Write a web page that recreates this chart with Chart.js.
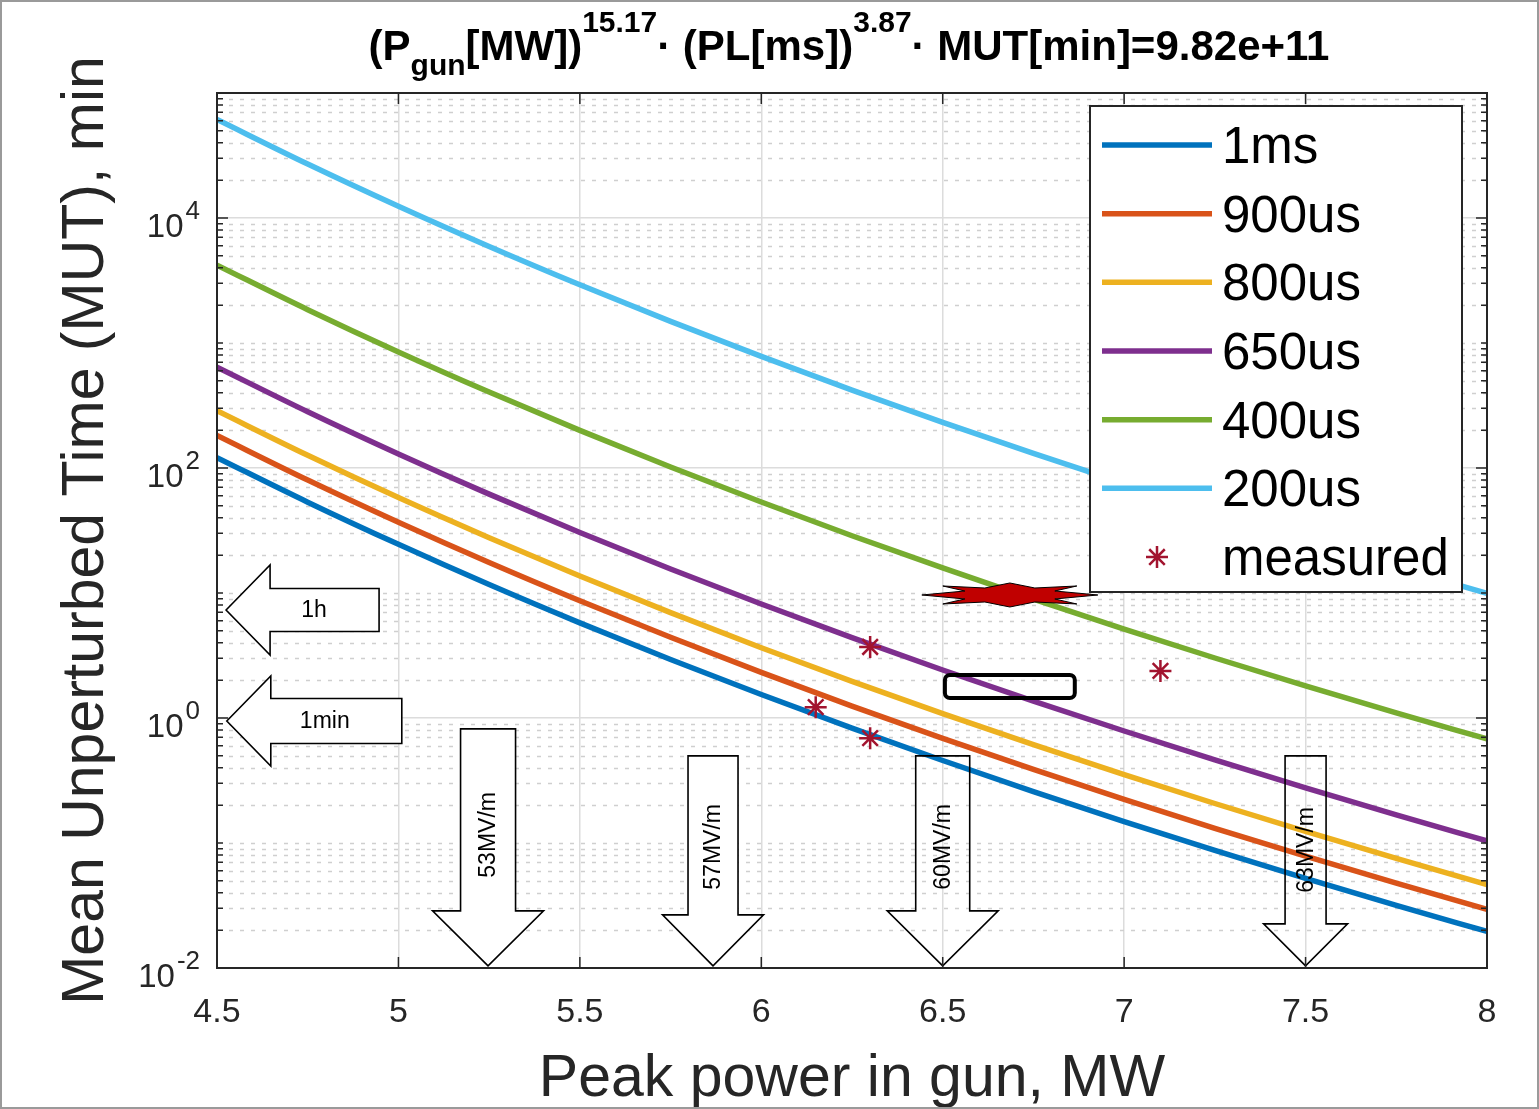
<!DOCTYPE html>
<html>
<head>
<meta charset="utf-8">
<title>Mean unperturbed time vs peak power</title>
<script src="https://cdn.jsdelivr.net/npm/chart.js@4.4.1/dist/chart.umd.min.js"></script>
<style>
  html, body { margin: 0; padding: 0; background: #fff; overflow: hidden; }
  #wrap { position: relative; width: 1539px; height: 1109px; }
  #chart { position: absolute; left: 0; top: 0; }
  #title {
    position: absolute; left: 214px; width: 1270px; top: 25px;
    text-align: center; white-space: nowrap; color: #000;
    font: bold 42px "Liberation Sans", Arial, sans-serif; line-height: 42px;
  }
  #title sub, #title sup {
    font-size: 30px; line-height: 1; position: relative; vertical-align: baseline;
  }
  #title sub { top: 15px; }
  #title sup { top: -28px; }
</style>
</head>
<body>
<div id="wrap">
  <canvas id="chart" width="1539" height="1109"></canvas>
  <div id="title">(P<sub>gun</sub>[MW])<sup>15.17</sup>·&nbsp;(PL[ms])<sup>3.87</sup>·&nbsp;MUT[min]=9.82e+11</div>
</div>
<script>
(function () {
  'use strict';

  /* ---- data ---- */
  var powerMW  = [4.5, 4.75, 5, 5.25, 5.5, 5.75, 6, 6.25, 6.5, 6.75, 7, 7.25, 7.5, 7.75, 8];
  var mut1ms   = [121, 53.3, 24.5, 11.68, 5.77, 2.94, 1.54, 0.829, 0.457, 0.258, 0.1485, 0.0872, 0.0522, 0.0317, 0.0196];
  var mut900us = [182, 80.1, 36.8, 17.55, 8.67, 4.42, 2.32, 1.246, 0.688, 0.388, 0.223, 0.131, 0.0784, 0.0477, 0.0295];
  var mut800us = [287, 126.4, 58.0, 27.7, 13.67, 6.96, 3.65, 1.966, 1.085, 0.612, 0.352, 0.207, 0.1237, 0.0752, 0.0465];
  var mut650us = [641, 282, 129.6, 61.8, 30.5, 15.56, 8.16, 4.39, 2.42, 1.366, 0.787, 0.462, 0.276, 0.168, 0.1038];
  var mut400us = [4197, 1848, 848, 405, 200, 101.8, 53.4, 28.7, 15.86, 8.94, 5.15, 3.02, 1.809, 1.100, 0.680];
  var mut200us = [61370, 27020, 12410, 5920, 2923, 1489, 781, 420, 232, 130.8, 75.3, 44.2, 26.5, 16.09, 9.94];
  var measuredPower = [6.15, 6.3, 6.3, 7.1];
  var measuredMUT   = [1.22, 3.70, 0.69, 2.38];

  var seriesLabels = ['1ms', '900us', '800us', '650us', '400us', '200us'];
  var seriesValues = [mut1ms, mut900us, mut800us, mut650us, mut400us, mut200us];
  var seriesColors = ['#0072BD', '#D95319', '#EDB120', '#7E2F8E', '#77AC30', '#4DBEEE'];

  var xTickStep = 0.5;
  var yMajorTicks = [1e-2, 1e0, 1e2, 1e4];
  var yMajorExp = ['-2', '0', '2', '4'];

  /* annotations: anchored in data units, shape sizes in px */
  var arrowNotes = [
    { text: '1h',     x: 4.525, y: 7.31,   dir: 'left', length: 153, headLen: 44, headHalf: 45,   bodyHalf: 21.5, labelAt: 88,  fill: '#fff' },
    { text: '1min',   x: 4.527, y: 0.946,  dir: 'left', length: 175, headLen: 44, headHalf: 45,   bodyHalf: 22.5, labelAt: 98,  fill: '#fff' },
    { text: '53MV/m', x: 5.247, y: 0.0104, dir: 'down', length: 237, headLen: 55, headHalf: 55.5, bodyHalf: 27.5, labelAt: 131, fill: '#fff' },
    { text: '57MV/m', x: 5.867, y: 0.0104, dir: 'down', length: 210, headLen: 51, headHalf: 50.5, bodyHalf: 25,   labelAt: 119, fill: '#fff' },
    { text: '60MV/m', x: 6.50,  y: 0.0104, dir: 'down', length: 210, headLen: 55, headHalf: 55.5, bodyHalf: 27,   labelAt: 119, fill: null },
    { text: '63MV/m', x: 7.50,  y: 0.0104, dir: 'down', length: 210, headLen: 42, headHalf: 42,   bodyHalf: 20.5, labelAt: 116, fill: null }
  ];
  var burstNote = { x: 6.685, y: 9.64 };
  var burstShape = [[-88, 0], [-45, -4], [-67, -9], [-25, -7], [0, -12], [25, -7], [67, -9], [45, -4],
                    [88, 0], [45, 4], [67, 9], [25, 7], [0, 12], [-25, 7], [-67, 9], [-45, 4]];
  var boxNote = { x1: 6.506, x2: 6.864, y1: 2.21, y2: 1.445 };

  var FONT = '"Liberation Sans", Arial, sans-serif';
  var AXIS_COLOR = '#262626';

  function pairs(xs, ys) {
    return xs.map(function (x, i) { return { x: x, y: ys[i] }; });
  }

  var datasets = seriesLabels.map(function (label, i) {
    return {
      label: label,
      data: pairs(powerMW, seriesValues[i]),
      borderColor: seriesColors[i],
      backgroundColor: seriesColors[i],
      borderWidth: 5.5,
      pointRadius: 0,
      cubicInterpolationMode: 'monotone',
      order: 1
    };
  });
  datasets.push({
    label: 'measured',
    data: pairs(measuredPower, measuredMUT),
    showLine: false,
    pointStyle: 'star',
    pointRadius: 11,
    borderWidth: 2.5,
    borderColor: '#A2142F',
    backgroundColor: '#A2142F',
    order: 0
  });

  /* minor log grid values: 2..9 in every decade plus the odd decades */
  function minorLogValues() {
    var out = [];
    for (var k = -2; k <= 4; k++) {
      for (var m = 2; m <= 9; m++) out.push(m * Math.pow(10, k));
      if (k % 2 !== 0) out.push(Math.pow(10, k));
    }
    return out;
  }

  /* =======================================================================
     plugins
     ======================================================================= */

  var background = {
    id: 'background',
    beforeDraw: function (chart) {
      var ctx = chart.ctx;
      ctx.save();
      ctx.fillStyle = '#fff';
      ctx.fillRect(0, 0, chart.width, chart.height);
      ctx.restore();
    }
  };

  var minorGrid = {
    id: 'minorGrid',
    beforeDatasetsDraw: function (chart) {
      var ctx = chart.ctx, a = chart.chartArea, y = chart.scales.y;
      ctx.save();
      ctx.strokeStyle = '#cfcfcf';
      ctx.lineWidth = 1.5;
      ctx.setLineDash([4, 7]);
      minorLogValues().forEach(function (v) {
        var py = Math.round(y.getPixelForValue(v)) + 0.5;
        ctx.beginPath();
        ctx.moveTo(a.left + 12, py);
        ctx.lineTo(a.right, py);
        ctx.stroke();
      });
      ctx.restore();
    }
  };

  function arrowPath(ctx, n) {
    ctx.beginPath();
    ctx.moveTo(0, 0);
    ctx.lineTo(n.headLen, -n.headHalf);
    ctx.lineTo(n.headLen, -n.bodyHalf);
    ctx.lineTo(n.length, -n.bodyHalf);
    ctx.lineTo(n.length, n.bodyHalf);
    ctx.lineTo(n.headLen, n.bodyHalf);
    ctx.lineTo(n.headLen, n.headHalf);
    ctx.closePath();
  }

  var annotations = {
    id: 'annotations',
    afterDatasetsDraw: function (chart) {
      var ctx = chart.ctx, xs = chart.scales.x, ys = chart.scales.y;
      ctx.save();

      arrowNotes.forEach(function (n) {
        var px = xs.getPixelForValue(n.x), py = ys.getPixelForValue(n.y);
        ctx.save();
        ctx.translate(px, py);
        if (n.dir === 'down') ctx.rotate(-Math.PI / 2);
        arrowPath(ctx, n);
        if (n.fill) { ctx.fillStyle = n.fill; ctx.fill(); }
        ctx.strokeStyle = '#000';
        ctx.lineWidth = 1.6;
        ctx.lineJoin = 'miter';
        ctx.stroke();
        ctx.fillStyle = '#000';
        ctx.font = '23px ' + FONT;
        ctx.textAlign = 'center';
        ctx.textBaseline = 'middle';
        ctx.fillText(n.text, n.labelAt, 1);
        ctx.restore();
      });

      // red burst
      var bx = xs.getPixelForValue(burstNote.x), by = ys.getPixelForValue(burstNote.y);
      ctx.beginPath();
      burstShape.forEach(function (p, i) {
        if (i === 0) ctx.moveTo(bx + p[0], by + p[1]);
        else ctx.lineTo(bx + p[0], by + p[1]);
      });
      ctx.closePath();
      ctx.fillStyle = '#C00000';
      ctx.fill();
      ctx.strokeStyle = '#000';
      ctx.lineWidth = 1;
      ctx.stroke();

      // rounded box
      var rx1 = xs.getPixelForValue(boxNote.x1), rx2 = xs.getPixelForValue(boxNote.x2);
      var ry1 = ys.getPixelForValue(boxNote.y1), ry2 = ys.getPixelForValue(boxNote.y2);
      ctx.beginPath();
      ctx.roundRect(rx1, ry1, rx2 - rx1, ry2 - ry1, 5);
      ctx.lineWidth = 4;
      ctx.strokeStyle = '#000';
      ctx.stroke();

      ctx.restore();
    }
  };

  var axesFrame = {
    id: 'axesFrame',
    afterDraw: function (chart) {
      var ctx = chart.ctx, a = chart.chartArea, xs = chart.scales.x, ys = chart.scales.y;
      ctx.save();

      // inward ticks
      ctx.strokeStyle = AXIS_COLOR;
      ctx.lineWidth = 1.5;
      function hTick(v, len) {
        var py = ys.getPixelForValue(v);
        ctx.beginPath();
        ctx.moveTo(a.left, py); ctx.lineTo(a.left + len, py);
        ctx.moveTo(a.right, py); ctx.lineTo(a.right - len, py);
        ctx.stroke();
      }
      minorLogValues().forEach(function (v) { hTick(v, 6); });
      yMajorTicks.forEach(function (v) { hTick(v, 11); });
      xs.ticks.forEach(function (t) {
        var px = xs.getPixelForValue(t.value);
        ctx.beginPath();
        ctx.moveTo(px, a.bottom); ctx.lineTo(px, a.bottom - 11);
        ctx.moveTo(px, a.top); ctx.lineTo(px, a.top + 11);
        ctx.stroke();
      });

      // box
      ctx.lineWidth = 2;
      ctx.strokeRect(a.left, a.top, a.right - a.left, a.bottom - a.top);

      // y tick labels: 10 with superscript exponent
      ctx.fillStyle = AXIS_COLOR;
      ctx.textAlign = 'right';
      ctx.textBaseline = 'alphabetic';
      yMajorTicks.forEach(function (v, i) {
        var py = ys.getPixelForValue(v);
        var rightX = a.left - 17;
        ctx.font = '26px ' + FONT;
        var ew = ctx.measureText(yMajorExp[i]).width;
        ctx.fillText(yMajorExp[i], rightX, py + 1);
        ctx.font = '33px ' + FONT;
        ctx.fillText('10', rightX - ew - 2, py + 19);
      });

      // legend
      var lx = a.right - 397, ly = a.top + 13, lw = 372, lh = 486;
      ctx.fillStyle = '#fff';
      ctx.fillRect(lx, ly, lw, lh);
      ctx.strokeStyle = AXIS_COLOR;
      ctx.lineWidth = 2;
      ctx.strokeRect(lx, ly, lw, lh);
      ctx.font = '51px ' + FONT;
      ctx.textAlign = 'left';
      chart.data.datasets.forEach(function (ds, i) {
        var ry = ly + 39 + i * 68.67;
        ctx.strokeStyle = ds.borderColor;
        ctx.fillStyle = ds.backgroundColor;
        ctx.lineWidth = ds.borderWidth;
        if (ds.showLine === false) {
          Chart.helpers.drawPoint(ctx, {
            pointStyle: ds.pointStyle, radius: ds.pointRadius, borderWidth: ds.borderWidth, rotation: 0
          }, lx + 67, ry);
        } else {
          ctx.beginPath();
          ctx.moveTo(lx + 12, ry);
          ctx.lineTo(lx + 122, ry);
          ctx.stroke();
        }
        ctx.fillStyle = '#000';
        ctx.fillText(ds.label, lx + 132, ry + 18);
      });

      // outer picture border
      ctx.strokeStyle = '#9a9a9a';
      ctx.lineWidth = 2;
      ctx.strokeRect(1, 1, chart.width - 2, chart.height - 2);

      ctx.restore();
    }
  };

  /* =======================================================================
     chart
     ======================================================================= */

  new Chart(document.getElementById('chart'), {
    type: 'line',
    data: { datasets: datasets },
    options: {
      responsive: false,
      animation: false,
      devicePixelRatio: 1,
      layout: { padding: { top: 93, right: 52, left: 0, bottom: 0 } },
      plugins: {
        legend: { display: false },
        tooltip: { enabled: false },
        title: { display: false }
      },
      scales: {
        x: {
          type: 'linear',
          min: 4.5,
          max: 8,
          ticks: {
            stepSize: xTickStep,
            padding: 24,
            color: AXIS_COLOR,
            font: { family: FONT, size: 34 },
            maxRotation: 0,
            autoSkip: false,
            callback: function (v) { return String(Math.round(v * 100) / 100); }
          },
          grid: { color: '#dcdcdc', lineWidth: 1.5, drawTicks: false },
          border: { display: false },
          title: {
            display: true,
            text: 'Peak power in gun, MW',
            color: AXIS_COLOR,
            font: { family: FONT, size: 59, lineHeight: 1 },
            padding: { top: 0, bottom: 0 }
          },
          afterFit: function (scale) { scale.height = 141; }
        },
        y: {
          type: 'logarithmic',
          min: 0.01,
          max: 100000,
          ticks: { display: false },
          afterBuildTicks: function (scale) {
            scale.ticks = yMajorTicks.map(function (v) { return { value: v }; });
          },
          grid: { color: '#dcdcdc', lineWidth: 1.5, drawTicks: false },
          border: { display: false },
          title: {
            display: true,
            text: 'Mean Unperturbed Time (MUT), min',
            color: AXIS_COLOR,
            font: { family: FONT, size: 59, lineHeight: 1 },
            padding: { top: 57, bottom: 0 }
          },
          afterFit: function (scale) { scale.width = 217; }
        }
      }
    },
    plugins: [background, minorGrid, annotations, axesFrame]
  });
}());
</script>
</body>
</html>
